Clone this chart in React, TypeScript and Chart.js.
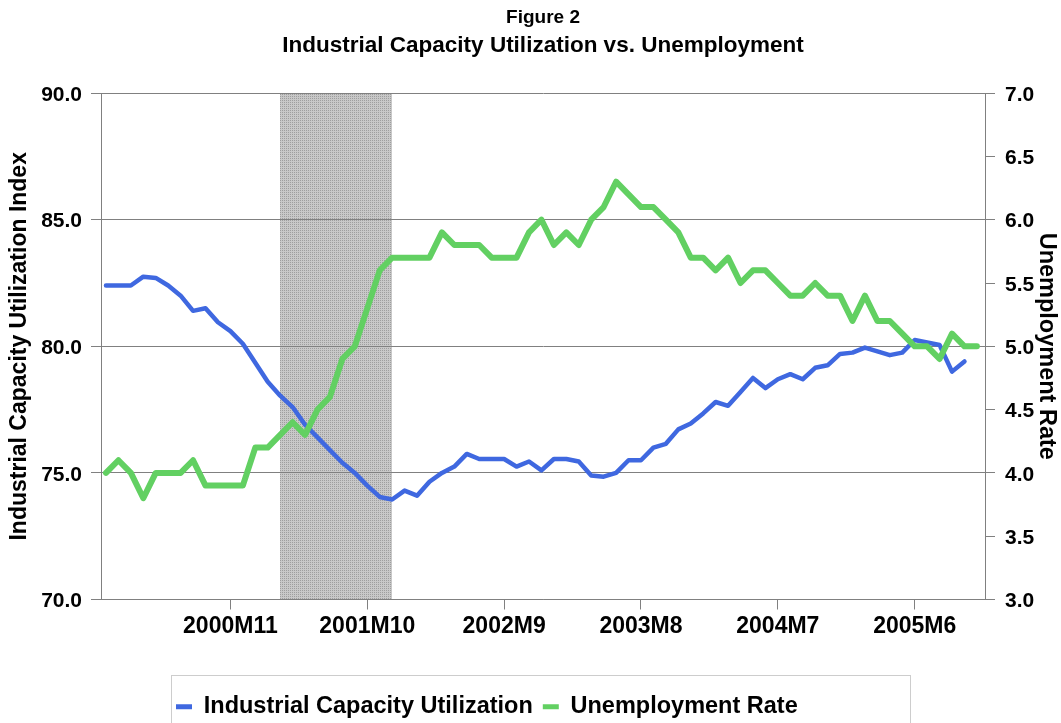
import React, { useEffect, useRef } from 'react';
import { Chart, registerables } from 'chart.js';

Chart.register(...registerables);

const categories = [
  '2000M1', '2000M2', '2000M3', '2000M4', '2000M5', '2000M6', '2000M7', '2000M8', '2000M9', '2000M10', '2000M11', '2000M12',
  '2001M1', '2001M2', '2001M3', '2001M4', '2001M5', '2001M6', '2001M7', '2001M8', '2001M9', '2001M10', '2001M11', '2001M12',
  '2002M1', '2002M2', '2002M3', '2002M4', '2002M5', '2002M6', '2002M7', '2002M8', '2002M9', '2002M10', '2002M11', '2002M12',
  '2003M1', '2003M2', '2003M3', '2003M4', '2003M5', '2003M6', '2003M7', '2003M8', '2003M9', '2003M10', '2003M11', '2003M12',
  '2004M1', '2004M2', '2004M3', '2004M4', '2004M5', '2004M6', '2004M7', '2004M8', '2004M9', '2004M10', '2004M11', '2004M12',
  '2005M1', '2005M2', '2005M3', '2005M4', '2005M5', '2005M6', '2005M7', '2005M8', '2005M9', '2005M10', '2005M11',
];

const capacityUtilization = [
  82.4, 82.4, 82.4, 82.75, 82.7, 82.4, 82.0, 81.4, 81.5, 80.95, 80.6, 80.1,
  79.35, 78.6, 78.05, 77.6, 76.9, 76.4, 75.9, 75.4, 75.0, 74.5, 74.05, 73.95,
  74.3, 74.1, 74.65, 75.0, 75.25, 75.75, 75.55, 75.55, 75.55, 75.25, 75.45, 75.1,
  75.55, 75.55, 75.45, 74.9, 74.85, 75.0, 75.5, 75.5, 76.0, 76.15, 76.72, 76.95,
  77.35, 77.8, 77.65, 78.2, 78.75, 78.35, 78.7, 78.9, 78.7, 79.15, 79.25, 79.7,
  79.75, 79.95, 79.8, 79.65, 79.75, 80.25, 80.15, 80.05, 79.0, 79.4,
];

const unemploymentRate = [
  4.0, 4.1, 4.0, 3.8, 4.0, 4.0, 4.0, 4.1, 3.9, 3.9, 3.9, 3.9,
  4.2, 4.2, 4.3, 4.4, 4.3, 4.5, 4.6, 4.9, 5.0, 5.3, 5.6, 5.7,
  5.7, 5.7, 5.7, 5.9, 5.8, 5.8, 5.8, 5.7, 5.7, 5.7, 5.9, 6.0,
  5.8, 5.9, 5.8, 6.0, 6.1, 6.3, 6.2, 6.1, 6.1, 6.0, 5.9, 5.7,
  5.7, 5.6, 5.7, 5.5, 5.6, 5.6, 5.5, 5.4, 5.4, 5.5, 5.4, 5.4,
  5.2, 5.4, 5.2, 5.2, 5.1, 5.0, 5.0, 4.9, 5.1, 5.0, 5.0,
];

const xTickLabels = ['2000M11', '2001M10', '2002M9', '2003M8', '2004M7', '2005M6'];
const recession = ['2001M3', '2001M12'];

const leftAxis = { min: 70, max: 90, step: 5 };
const rightAxis = { min: 3, max: 7, step: 0.5 };
const xRange = { min: -0.4, max: 70.65 };

const seriesNames = ['Industrial Capacity Utilization', 'Unemployment Rate'];
const titleText = 'Figure 2';
const subtitleText = 'Industrial Capacity Utilization vs. Unemployment';
const leftAxisTitle = 'Industrial Capacity Utilization Index';
const rightAxisTitle = 'Unemployment Rate';

const BLUE = '#3f68e0';
const GREEN = '#62d062';
const GRID = '#808080';
const FONT = "'Liberation Sans', Arial, sans-serif";

export default function App() {
  const ref = useRef<HTMLCanvasElement>(null);

  useEffect(() => {
    const canvas = ref.current;
    if (!canvas) return;
    const ctx0 = canvas.getContext('2d')!;

    const pat = document.createElement('canvas');
    pat.width = 2;
    pat.height = 2;
    const pctx = pat.getContext('2d')!;
    pctx.fillStyle = '#c8c8c8';
    pctx.fillRect(0, 0, 2, 2);
    pctx.fillStyle = '#9e9e9e';
    pctx.fillRect(0, 0, 1, 1);
    const pattern = ctx0.createPattern(pat, 'repeat');

    const recessionPlugin = {
      id: 'recessionShade',
      beforeDraw(chart: any) {
        const { ctx, chartArea, scales } = chart;
        const x0 = scales.x.getPixelForValue(categories.indexOf(recession[0]));
        const x1 = scales.x.getPixelForValue(categories.indexOf(recession[1]));
        ctx.save();
        ctx.fillStyle = pattern as any;
        ctx.fillRect(Math.round(x0), chartArea.top, Math.round(x1 - x0), chartArea.bottom - chartArea.top);
        ctx.restore();
      },
    };

    const placer = {
      id: 'placer',
      afterLayout(chart: any) {
        const area = chart.chartArea;
        chart.boxes.forEach((b: any) => {
          if (b.position === 'top' && b.options && b.options.text !== undefined) {
            b.left = area.left;
            b.right = area.right;
            b.width = area.right - area.left;
          }
        });
        const lg = chart.legend;
        if (!lg) return;
        lg.left = 166;
        lg.right = 910;
        lg.top = 685;
        lg.bottom = 723;
        lg.width = lg.right - lg.left;
        lg.height = lg.bottom - lg.top;
      },
      afterDraw(chart: any) {
        const lg = chart.legend;
        if (!lg) return;
        const { ctx } = chart;
        ctx.save();
        ctx.strokeStyle = '#9a9a9a';
        ctx.lineWidth = 1;
        ctx.setLineDash([1, 1]);
        ctx.strokeRect(lg.left + 5.5, lg.top - 10 + 0.5, lg.right - lg.left - 5, 80);
        ctx.restore();
      },
    };

    const chart = new Chart(canvas, {
      type: 'line',
      data: {
        datasets: [
          {
            label: seriesNames[0],
            data: capacityUtilization.map((v, i) => ({ x: i, y: v })),
            yAxisID: 'y',
            borderColor: BLUE,
            backgroundColor: BLUE,
            borderWidth: 4.5,
            pointRadius: 0,
            tension: 0,
            borderJoinStyle: 'round',
            borderCapStyle: 'round',
            order: 1,
          },
          {
            label: seriesNames[1],
            data: unemploymentRate.map((v, i) => ({ x: i, y: v })),
            yAxisID: 'y1',
            borderColor: GREEN,
            backgroundColor: GREEN,
            borderWidth: 6,
            pointRadius: 0,
            tension: 0,
            borderJoinStyle: 'round',
            borderCapStyle: 'round',
            order: 0,
          },
        ],
      },
      options: {
        animation: false,
        responsive: false,
        devicePixelRatio: 1,
        layout: { padding: 0 },
        font: { family: FONT },
        color: '#000',
        plugins: {
          tooltip: { enabled: false },
          title: {
            display: true,
            text: titleText,
            color: '#000',
            font: { family: FONT, size: 19, weight: 'bold', lineHeight: 1.2 },
            padding: { top: 6.6, bottom: 0 },
          },
          subtitle: {
            display: true,
            text: subtitleText,
            color: '#000',
            font: { family: FONT, size: 22.5, weight: 'bold', lineHeight: 1.2 },
            padding: { top: 3.3, bottom: 33.4 },
          },
          legend: {
            display: true,
            position: 'bottom',
            align: 'start',
            labels: {
              color: '#000',
              font: { family: FONT, size: 23.5, weight: 'bold' },
              boxWidth: 16,
              boxHeight: 5,
              padding: 10,
              sort: (a: any, b: any) => a.datasetIndex - b.datasetIndex,
              generateLabels: (c: any) =>
                (Chart.defaults.plugins.legend.labels.generateLabels as any)(c).map((l: any) => ({
                  ...l,
                  fillStyle: l.strokeStyle,
                  lineWidth: 0,
                })),
            },
          },
        },
        scales: {
          x: {
            type: 'linear',
            min: xRange.min,
            max: xRange.max,
            afterFit: (s: any) => {
              s.height = 723 - 599 - 44;
            },
            afterBuildTicks: (s: any) => {
              s.ticks = xTickLabels.map((l) => ({ value: categories.indexOf(l) }));
            },
            ticks: {
              autoSkip: false,
              maxRotation: 0,
              padding: 3,
              color: '#000',
              font: { family: FONT, size: 23, weight: 'bold' },
              callback: (v: any) => categories[Math.round(Number(v))],
            },
            grid: {
              drawOnChartArea: false,
              drawTicks: true,
              tickLength: 10,
              color: GRID,
            },
            border: { color: GRID, width: 1 },
          },
          y: {
            type: 'linear',
            position: 'left',
            min: leftAxis.min,
            max: leftAxis.max,
            afterFit: (s: any) => {
              s.width = 101;
            },
            ticks: {
              stepSize: leftAxis.step,
              padding: 9,
              labelOffset: 2,
              color: '#000',
              font: { family: FONT, size: 21, weight: 'bold' },
              callback: (v: any) => Number(v).toFixed(1),
            },
            grid: { color: GRID, tickLength: 10, lineWidth: 1 },
            border: { color: GRID, width: 1 },
            title: {
              display: true,
              text: leftAxisTitle,
              color: '#000',
              font: { family: FONT, size: 23, weight: 'bold' },
              padding: { top: 6, bottom: 0 },
            },
          },
          y1: {
            type: 'linear',
            position: 'right',
            min: rightAxis.min,
            max: rightAxis.max,
            afterFit: (s: any) => {
              s.width = 76;
            },
            ticks: {
              stepSize: rightAxis.step,
              padding: 10,
              labelOffset: 2,
              color: '#000',
              font: { family: FONT, size: 21, weight: 'bold' },
              callback: (v: any) => Number(v).toFixed(1),
            },
            grid: { drawOnChartArea: false, color: GRID, tickLength: 10 },
            border: { color: GRID, width: 1 },
            title: {
              display: true,
              text: rightAxisTitle,
              color: '#000',
              font: { family: FONT, size: 23.5, weight: 'bold' },
              padding: { top: 0, bottom: 0 },
            },
          },
        },
      } as any,
      plugins: [recessionPlugin, placer],
    });

    return () => chart.destroy();
  }, []);

  return (
    <div style={{ position: 'absolute', left: 0, top: 0, width: 1061, height: 723, background: '#fff' }}>
      <canvas ref={ref} width={1061} height={723} style={{ display: 'block', width: 1061, height: 723 }} />
    </div>
  );
}
